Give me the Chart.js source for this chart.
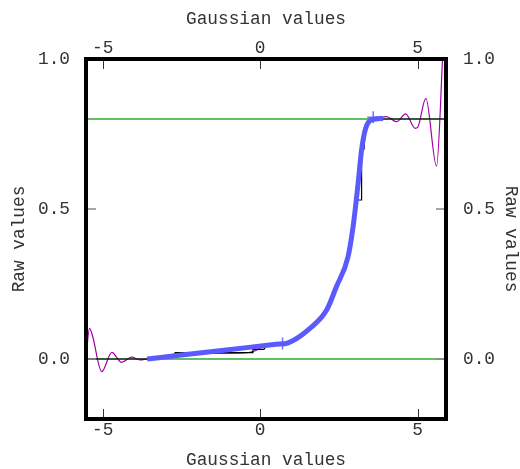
<!DOCTYPE html>
<html>
<head>
<meta charset="utf-8">
<script src="https://cdn.jsdelivr.net/npm/chart.js@4/dist/chart.umd.min.js"></script>
<style>
html,body{margin:0;padding:0;background:#fff;}
#wrap{width:520px;height:469px;position:relative;}
</style>
</head>
<body>
<div id="wrap"><canvas id="c"></canvas></div>
<script>
// Axis ranges and ticks
const xMin = -5.53, xMax = 5.9;
const yMin = -0.2, yMax = 1.0;
const xTicks = [-5, 0, 5];
const yTicks = [0, 0.5, 1.0];
const yTickLabels = ['0.0', '0.5', '1.0'];
const xTitle = 'Gaussian values';
const yTitle = 'Raw values';

// Horizontal reference levels (green)
const referenceLevels = [0, 0.8];

// Raw values (black line with steps)
const rawX = [-5.53, -3.6, -2.7, -2.7, -0.23, -0.23, 0.12, 0.2, 0.89, 1.58, 2.11, 2.42, 2.79, 2.95, 2.97, 2.97, 3.05, 3.22, 3.22, 3.3, 3.33, 3.45, 3.6, 5.9];
const rawY = [0, 0, 0.012, 0.021, 0.021, 0.032, 0.032, 0.045, 0.054, 0.102, 0.163, 0.241, 0.341, 0.441, 0.47, 0.50, 0.53, 0.53, 0.70, 0.70, 0.76, 0.79, 0.80, 0.80];

// Oscillating interpolant (purple)
const splineX = [-5.53, -5.42, -5.33, -5.03, -4.71, -4.40, -4.08, -3.82, -3.6, -3.3, -3.0, -2.7, -2.4, -1.5, -0.5, -0.2, 0.1, 0.5, 0.9, 1.6, 2.1, 2.4, 2.8, 2.95, 3.1, 3.22, 3.35, 3.5, 3.6, 4.01, 4.33, 4.62, 4.92, 5.0, 5.26, 5.60, 5.79, 5.9];
const splineY = [0.0, 0.102, 0.08, -0.042, 0.022, -0.011, 0.006, -0.003, 0.0, 0.004, 0.009, 0.016, 0.019, 0.019, 0.02, 0.026, 0.04, 0.05, 0.055, 0.10, 0.16, 0.24, 0.34, 0.44, 0.58, 0.70, 0.77, 0.795, 0.80, 0.808, 0.791, 0.817, 0.769, 0.772, 0.869, 0.643, 1.0, 1.25];

// Smooth fit (thick blue)
const fitX = [-3.59, -2.5, -1.0, 0.5, 0.89, 1.58, 2.11, 2.42, 2.79, 2.95, 3.11, 3.22, 3.35, 3.53, 3.90];
const fitY = [0.0, 0.013, 0.031, 0.049, 0.054, 0.102, 0.163, 0.241, 0.341, 0.441, 0.586, 0.697, 0.769, 0.797, 0.802];

// Cross markers on the fit
const markerX = [0.71, 3.59];
const markerY = [0.052, 0.806];

const pts = (xs, ys) => xs.map((x, i) => ({x, y: ys[i]}));

const FONT = {family: "'Liberation Mono', 'DejaVu Sans Mono', monospace", size: 17.8, lineHeight: 1};
const TXT = '#333';

const framePlugin = {
  id: 'frame',
  afterDatasetsDraw(chart) {
    const {ctx, chartArea: a, scales} = chart;
    ctx.save();
    const line = (x1, y1, x2, y2) => { ctx.beginPath(); ctx.moveTo(x1, y1); ctx.lineTo(x2, y2); ctx.stroke(); };
    ctx.lineWidth = 1;
    ctx.strokeStyle = '#333';
    xTicks.forEach(v => {
      const px = Math.round(scales.x.getPixelForValue(v)) + 0.5;
      line(px, a.top, px, a.top + 10);
      line(px, a.bottom, px, a.bottom - 10);
    });
    ctx.strokeStyle = '#888';
    ctx.lineWidth = 1.5;
    yTicks.forEach(v => {
      const py = Math.round(scales.y.getPixelForValue(v));
      line(a.left, py, a.left + 10, py);
      line(a.right, py, a.right - 10, py);
    });
    ctx.lineWidth = 4;
    ctx.strokeStyle = '#000';
    ctx.strokeRect(a.left, a.top, a.right - a.left, a.bottom - a.top);
    ctx.restore();
  }
};

const xAxis = (pos, h, titlePad) => ({
  type: 'linear', position: pos, min: xMin, max: xMax,
  afterBuildTicks: s => { s.ticks = xTicks.map(v => ({value: v})); },
  afterFit: s => { s.height = h; },
  grid: {display: false, drawTicks: false},
  border: {display: false},
  ticks: {padding: 2, font: FONT, color: TXT, autoSkip: false, maxRotation: 0, callback: v => String(v)},
  title: {display: true, text: xTitle, font: FONT, color: TXT, padding: titlePad}
});
const yAxis = (pos, w, tickPad, titlePad) => ({
  type: 'linear', position: pos, min: yMin, max: yMax,
  afterBuildTicks: s => { s.ticks = yTicks.map(v => ({value: v})); },
  afterFit: s => { s.width = w; },
  grid: {display: false, drawTicks: false},
  border: {display: false},
  ticks: {padding: tickPad, font: FONT, color: TXT, autoSkip: false, callback: v => yTickLabels[yTicks.indexOf(v)]},
  title: {display: true, text: yTitle, font: FONT, color: TXT, padding: titlePad}
});

new Chart(document.getElementById('c'), {
  type: 'scatter',
  data: {
    datasets: [
      {data: pts(markerX, markerY), showLine: false, pointStyle: 'cross', pointRadius: 6, borderColor: 'rgba(90,90,255,0.85)', borderWidth: 1.5, backgroundColor: 'rgba(90,90,255,0.85)'},
      {data: pts(fitX, fitY), showLine: true, pointRadius: 0, borderColor: '#5a5aff', borderWidth: 5, cubicInterpolationMode: 'monotone', borderJoinStyle: 'round', borderCapStyle: 'butt'},
      {data: pts(rawX, rawY), showLine: true, pointRadius: 0, borderColor: '#000', borderWidth: 1.2, tension: 0},
      {data: pts(splineX, splineY), showLine: true, pointRadius: 0, borderColor: 'rgb(160,0,170)', borderWidth: 1.2, cubicInterpolationMode: 'monotone'},
      ...referenceLevels.map(l => ({data: [{x: xMin, y: l}, {x: xMax, y: l}], showLine: true, pointRadius: 0, borderColor: 'rgb(100,190,100)', borderWidth: 2}))
    ]
  },
  options: {
    responsive: true, maintainAspectRatio: false, animation: false,
    layout: {padding: 0},
    plugins: {legend: {display: false}, tooltip: {enabled: false}},
    scales: {
      x: xAxis('bottom', 50, {top: 0, bottom: 0}),
      x2: xAxis('top', 59, {top: 10, bottom: 0}),
      y: yAxis('left', 86, 16, {top: 10.6, bottom: 0}),
      y2: yAxis('right', 74, 17, {top: 0, bottom: 0})
    }
  },
  plugins: [framePlugin]
});
</script>
</body>
</html>
